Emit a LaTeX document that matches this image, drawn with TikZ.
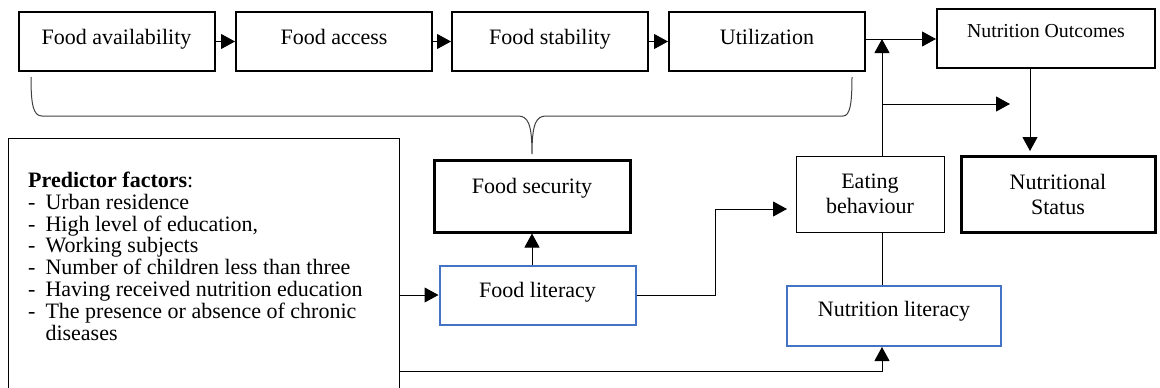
\documentclass[tikz,border=0pt]{standalone}
\usepackage{fontspec}
\setmainfont{Liberation Serif}
\usepackage{xcolor}
\usetikzlibrary{arrows.meta, positioning}

\definecolor{wordblue}{HTML}{4472C4}
\definecolor{bracegray}{HTML}{404040}

\tikzset{
  txt/.style={font=\fontsize{22}{25}\selectfont},
  box/.style={txt, draw, line width=2pt, minimum width=196pt, minimum height=59pt,
    inner sep=0pt, text height=15pt, text depth=10pt},
  fatbox/.style={box, line width=3pt},
  bluebox/.style={box, draw=wordblue},
  thinbox/.style={txt, draw, line width=0.9pt, inner sep=0pt, align=center},
  conn/.style={line width=1pt, -{Triangle[length=14pt,width=15pt]}},
  plain/.style={line width=1pt}
}

\begin{document}
\begin{tikzpicture}[x=1pt, y=-1pt]
    \useasboundingbox (0,0) rectangle (1160,388);

    % top row
    \node[box] (avail) at (116.5,41.5) {Food availability};
    \node[box] (access) at (334,41.5) {Food access};
    \node[box] (stab) at (550,41.5) {Food stability};
    \node[box] (util) at (767,41.5) {Utilization};
    \node[box, minimum width=218pt, text height=13pt, text depth=15pt,
      font=\fontsize{19.8}{22}\selectfont] (outc) at (1046,38.5) {Nutrition Outcomes};

    \draw[conn] (avail) -- (access);
    \draw[conn] (access) -- (stab);
    \draw[conn] (stab) -- (util);

    % middle and bottom boxes
    \node[fatbox, text height=14pt, text depth=19pt, minimum height=72pt] (fsec) at (532,196) {Food security};
    \node[bluebox] (flit) at (537.5,295) {Food literacy};
    \node[thinbox, minimum width=148pt, minimum height=76pt] (eat) at (870,194) {Eating\\behaviour};
    \node[bluebox, minimum width=214pt, minimum height=60pt, text height=14pt, text depth=13pt] (nlit) at (894,316) {Nutrition literacy};
    \node[fatbox, align=center, text height=, text depth=, minimum width=194pt, minimum height=76pt] (nstat) at (1058,194) {Nutritional\\Status};

    \node[thinbox, anchor=north west, minimum width=391pt, minimum height=280pt] (pred) at (8,138) {};
    \node[txt, anchor=north west, inner sep=0pt, font=\fontsize{22}{21.4}\selectfont] (factors) at (28,172) {%
      \def\arraystretch{1}%
      \begin{tabular}{@{}l@{\hspace{10pt}}l@{}}
        \multicolumn{2}{@{}l}{\textbf{Predictor factors}:}\\
        - & Urban residence\\
        - & High level of education,\\
        - & Working subjects\\
        - & Number of children less than three\\
        - & Having received nutrition education\\
        - & The presence or absence of chronic\\
          & diseases
      \end{tabular}};

    % brace under the four dimensions
    \draw[bracegray, line width=1pt] (31,77) .. controls (31,104) and (33,116) .. (42,116)
      -- (518,116) .. controls (528,116) and (532,124) .. (532,154)
      .. controls (532,124) and (536,116) .. (546,116)
      -- (843,116) .. controls (850,116) and (852,104) .. (852,77);

    \coordinate (top) at (882,39);
    \coordinate (split) at (882,104);
    \coordinate (splitend) at (1010,104);
    \coordinate (down) at (1030,151);
    \coordinate (toeat) at (787,209);
    \coordinate (low) at (882,371);

    \draw[conn] (top -| util.east) -- (top -| outc.west);
    \draw[conn] (eat.north -| top) -- (top);
    \draw[conn] (split) -- (splitend);
    \draw[conn] (down |- outc.south) -- (down);

    \draw[conn] (fsec |- flit.north) -- (fsec.south);
    \draw[conn] (pred.east |- flit) -- (flit.west);
    \draw[conn] (flit.east) -- ++(79,0) |- (toeat);
    \draw[plain] (eat.south -| top) -- (nlit.north -| top);
    \draw[conn] (pred.east |- low) -- (low) -- (nlit.south -| low);

\end{tikzpicture}
\end{document}
